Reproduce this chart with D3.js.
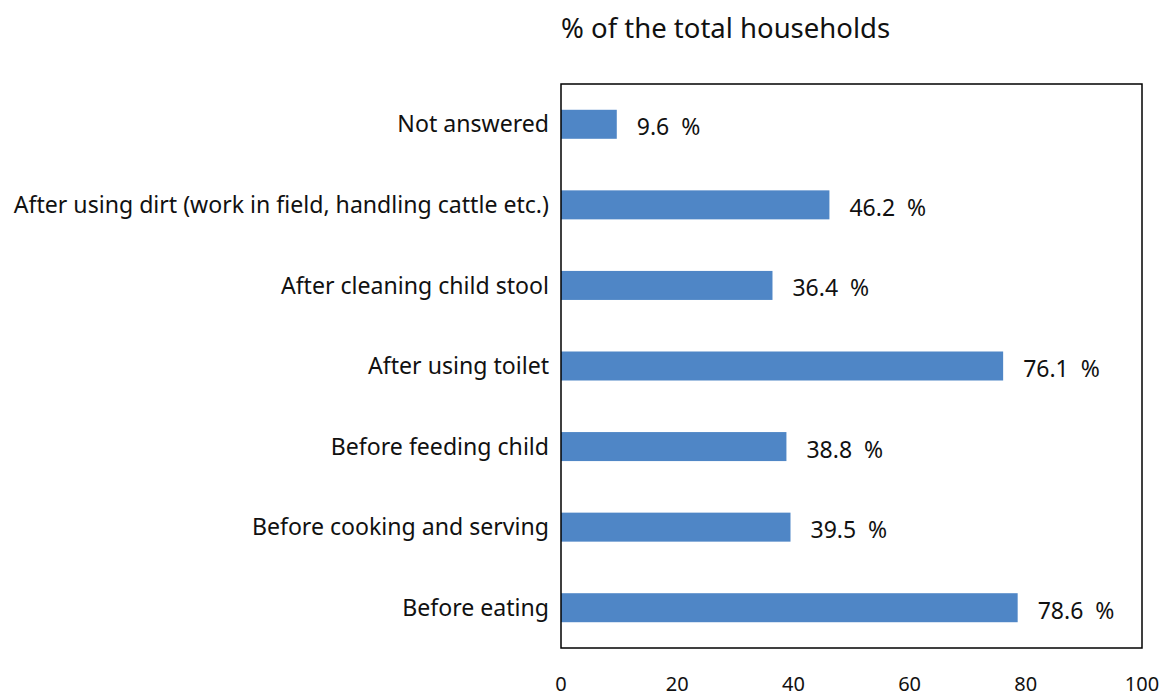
<!DOCTYPE html>
<html><head><meta charset="utf-8">
<script src="https://cdn.jsdelivr.net/npm/d3@7"></script>
<style>body{margin:0;background:#fff;} text{font-family:"Noto Sans",sans-serif;fill:#111;}</style>
</head><body>
<svg id="c" width="1159" height="697"></svg>
<script>
const categories = ["Not answered","After using dirt (work in field, handling cattle etc.)","After cleaning child stool","After using toilet","Before feeding child","Before cooking and serving","Before eating"];
const values = [9.6,46.2,36.4,76.1,38.8,39.5,78.6];
const valueLabels = ["9.6","46.2","36.4","76.1","38.8","39.5","78.6"];
const xTicks = [0,20,40,60,80,100];
const title = "% of the total households";

const svg = d3.select("#c");
const L=561, R=1142, T=84, B=648;
const x = d3.scaleLinear().domain([0,100]).range([L,R]);
const y = d3.scaleBand().domain(categories).range([T,B]).paddingInner(0.64).paddingOuter(0.32);

svg.append("text").attr("x",L).attr("y",38).attr("font-size",27.5).text(title);

svg.selectAll("rect.bar").data(values).join("rect").attr("class","bar")
  .attr("x",x(0)).attr("y",(d,i)=>y(categories[i])).attr("width",d=>x(d)-x(0)).attr("height",y.bandwidth())
  .attr("fill","#4f86c6");

svg.append("rect").attr("x",L).attr("y",T).attr("width",R-L).attr("height",B-T)
  .attr("fill","none").attr("stroke","#000").attr("stroke-width",1.5);

svg.selectAll("text.cat").data(categories).join("text").attr("class","cat")
  .attr("x",L-12).attr("y",d=>y(d)+y.bandwidth()/2).attr("dy","0.35em")
  .attr("text-anchor","end").attr("font-size",23.1).text(d=>d);

svg.selectAll("text.val").data(values).join("text").attr("class","val")
  .attr("x",d=>x(d)+20).attr("y",(d,i)=>y(categories[i])+y.bandwidth()/2+3).attr("dy","0.35em")
  .attr("font-size",23).attr("xml:space","preserve").style("white-space","pre").text((d,i)=>valueLabels[i]+"  %");

svg.selectAll("text.tick").data(xTicks).join("text").attr("class","tick")
  .attr("x",d=>x(d)).attr("y",684).attr("dy","0.35em").attr("text-anchor","middle")
  .attr("font-size",20).text(d=>d);
</script>
</body></html>
